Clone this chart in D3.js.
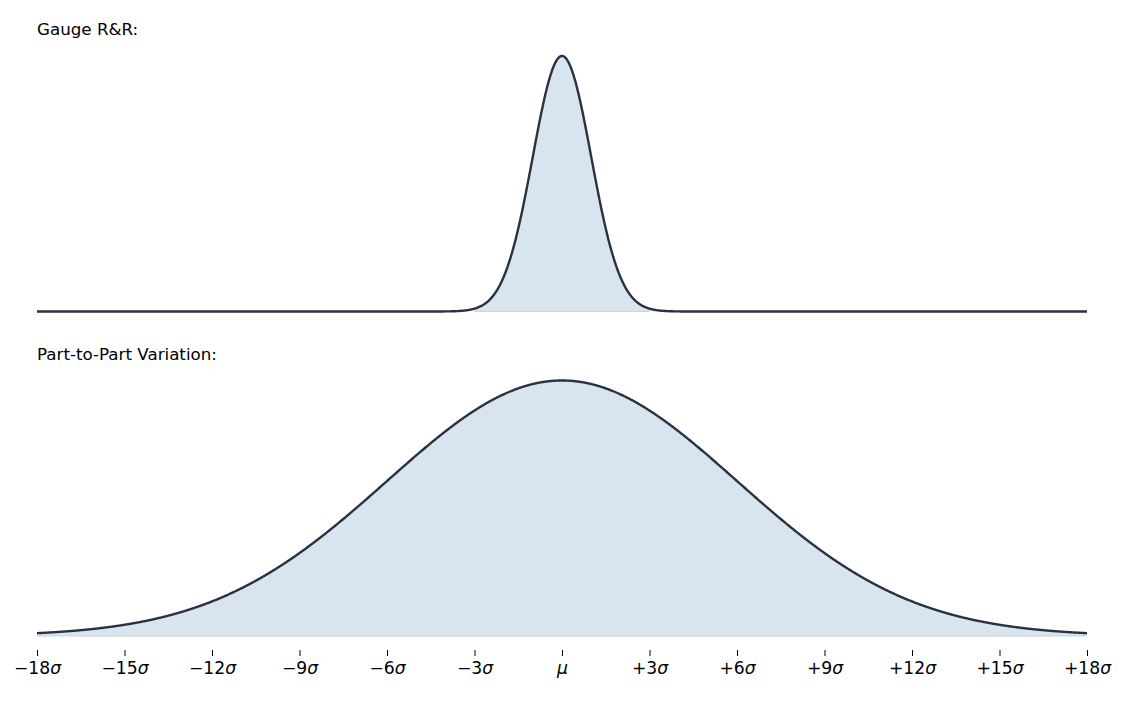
<!DOCTYPE html>
<html>
<head>
<meta charset="utf-8">
<script src="https://cdn.jsdelivr.net/npm/d3@7"></script>
<style>
  html, body { margin: 0; padding: 0; background: #fff; }
  svg { display: block; font-family: "DejaVu Sans", sans-serif; }
</style>
</head>
<body>
<svg id="chart" width="1124" height="701"></svg>
<script>
// ---- Data ----
const panelTitles = ["Gauge R&R:", "Part-to-Part Variation:"];
const panelMeans = [0, 0];
const panelSigmas = [1, 6];          // in units of the axis sigma
const tickValues = [-18, -15, -12, -9, -6, -3, 0, 3, 6, 9, 12, 15, 18];
const tickLabels = ["\u221218", "\u221215", "\u221212", "\u22129", "\u22126", "\u22123", "\u03bc",
                    "+3", "+6", "+9", "+12", "+15", "+18"];
const xDomain = [-18, 18];

// ---- Layout ----
const W = 1124, H = 701;
const left = 37, right = 1087;
const panels = [
  { top: 56, base: 311.5, titleY: 35 },
  { top: 380.5, base: 636, titleY: 360 }
];
const lineColor = "#2a3142";
const fillColor = "#d8e4ee";
const fillEdge = "#c3d5e6";

const svg = d3.select("#chart");
const x = d3.scaleLinear().domain(xDomain).range([left, right]);

function pdf(v, mu, s) {
  return Math.exp(-0.5 * ((v - mu) / s) ** 2) / (s * Math.sqrt(2 * Math.PI));
}

panels.forEach((p, i) => {
  const mu = panelMeans[i], s = panelSigmas[i];
  const peak = pdf(mu, mu, s);
  const y = d3.scaleLinear().domain([0, peak]).range([p.base, p.top]);
  const xs = d3.range(xDomain[0], xDomain[1] + 1e-9, 0.02);
  const pts = xs.map(v => [v, pdf(v, mu, s)]);
  const fillPts = pts.filter(d => d[0] >= mu - 3 * s - 1e-9 && d[0] <= mu + 3 * s + 1e-9);

  const area = d3.area().x(d => x(d[0])).y0(y(0)).y1(d => y(d[1]));
  svg.append("path").datum(fillPts).attr("d", area)
    .attr("fill", fillColor).attr("stroke", "none");
  svg.append("line")
    .attr("x1", x(Math.max(xDomain[0], mu - 3 * s))).attr("x2", x(Math.min(xDomain[1], mu + 3 * s)))
    .attr("y1", y(0)).attr("y2", y(0))
    .attr("stroke", fillEdge).attr("stroke-width", 1);

  const line = d3.line().x(d => x(d[0])).y(d => y(d[1]));
  svg.append("path").datum(pts).attr("d", line)
    .attr("fill", "none").attr("stroke", lineColor)
    .attr("stroke-width", 2.4).attr("stroke-linejoin", "round");

  svg.append("text").attr("x", left).attr("y", p.titleY)
    .attr("font-size", 16.7).attr("fill", "#000").text(panelTitles[i]);
});

// ---- X axis (ticks + labels, no domain line) ----
const axis = d3.axisBottom(x).tickValues(tickValues).tickSize(6).tickPadding(5)
  .tickFormat((d, i) => tickLabels[i]);
const gAxis = svg.append("g").attr("transform", "translate(0,650)").call(axis);
gAxis.select(".domain").remove();
gAxis.selectAll(".tick line").attr("stroke", "#000").attr("stroke-width", 1);
gAxis.selectAll(".tick text").each(function(d, i) {
  const t = d3.select(this);
  t.text(null).attr("font-size", 17.2).attr("font-family", "DejaVu Sans, sans-serif")
    .attr("fill", "#000").attr("dy", null).attr("y", 23.5);
  if (d === 0) {
    t.append("tspan").attr("font-style", "italic").text(tickLabels[i]);
  } else {
    t.append("tspan").text(tickLabels[i]);
    t.append("tspan").attr("font-style", "italic").text("\u03c3");
  }
});
</script>
</body>
</html>
